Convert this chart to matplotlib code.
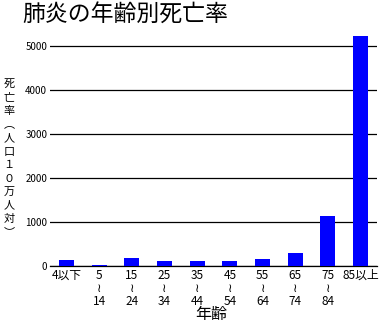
import matplotlib
matplotlib.use("Agg")
import matplotlib.pyplot as plt

plt.rcParams['font.family'] = ['Noto Sans CJK JP', 'DejaVu Sans']

# age groups and death rate per 100k
ages = ["4以下", "5\n≀\n14", "15\n≀\n24", "25\n≀\n34", "35\n≀\n44",
        "45\n≀\n54", "55\n≀\n64", "65\n≀\n74", "75\n≀\n84", "85以上"]
rates = [136, 30, 190, 114, 114, 118, 160, 300, 1143, 5220]
yticks = [0, 1000, 2000, 3000, 4000, 5000]

fig = plt.figure(figsize=(3.81, 3.21), dpi=100)
ax = fig.add_axes([50 / 381, 55 / 321, 327 / 381, 242 / 321])

x = range(len(ages))
ax.bar(x, rates, width=0.46, color="#0000ff", zorder=3)
ax.set_xlim(-0.5, len(ages) - 0.5)
ax.set_ylim(0, 5500)
ax.set_yticks(yticks)
ax.set_yticklabels([str(v) for v in yticks], fontsize=7)
ax.set_xticks(list(x))
ax.set_xticklabels(ages, fontsize=8.5, linespacing=1.0, va="top")
ax.tick_params(axis="both", length=0, pad=2)
ax.yaxis.grid(True, color="black", linewidth=0.9)
ax.set_axisbelow(True)
for s in ["top", "right", "left"]:
    ax.spines[s].set_visible(False)
ax.spines["bottom"].set_linewidth(0.9)

fig.text(211 / 381, 1 - 314 / 321, "年齢", fontsize=11.5,
         ha="center", va="center")

fig.text(22 / 381, 1 - 3 / 321, "肺炎の年齢別死亡率", fontsize=16.5,
         ha="left", va="top")

# vertical y label
ylab = "死亡率︵人口１０万人対︶"
for i, ch in enumerate(ylab):
    fig.text(9 / 381, 1 - (84 + i * 13.5) / 321, ch, fontsize=8,
             ha="center", va="center")

fig.savefig("out.png", dpi=100)
